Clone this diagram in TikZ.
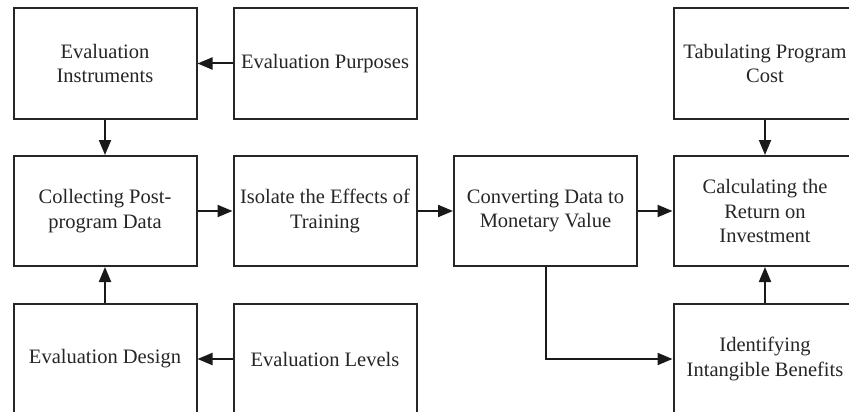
\documentclass[tikz,border=0pt]{standalone}
\usepackage{fontspec}
\setmainfont{Liberation Serif}
\usetikzlibrary{arrows.meta}
\begin{document}
\begin{tikzpicture}[x=1pt,y=-1pt,
  box/.style={draw=black!85, line width=2pt, minimum width=183pt, minimum height=110pt,
    inner sep=0pt, align=center, font=\fontsize{20.5}{24.5}\selectfont, text=black!85},
  conn/.style={line width=2pt, draw=black!90, -{Triangle[length=15pt,width=12pt]}}]
\useasboundingbox (0,0) rectangle (849,412);
\clip (0,0) rectangle (849,412);
\fill[white] (0,0) rectangle (849,412);
\node[box] (ei)   at (105,63.5) {Evaluation\\Instruments};
\node[box] (ep)   at (325,63.5) {Evaluation Purposes};
\node[box] (cpd)  at (105,211) {Collecting Post-\\program Data};
\node[box] (iso)  at (325,211) {Isolate the Effects of\\Training};
\node[box] (conv) at (545.5,211) {Converting Data to\\Monetary Value};
\node[box] (calc) at (765,211) {Calculating the\\Return on\\Investment};
\node[box] (tab)  at (765,63.5) {Tabulating Program\\Cost};
\node[box] (ed)   at (105,359) {Evaluation Design};
\node[box] (el)   at (325,359) {Evaluation Levels};
\node[box] (idb)  at (765,359) {Identifying\\Intangible Benefits};
\draw[conn] (ep) -- (ei);
\draw[conn] (ei) -- (cpd);
\draw[conn] (ed) -- (cpd);
\draw[conn] (el) -- (ed);
\draw[conn] (cpd) -- (iso);
\draw[conn] (iso) -- (conv);
\draw[conn] (conv) -- (calc);
\draw[conn] (tab) -- (calc);
\draw[conn] (idb) -- (calc);
\draw[conn] (conv.south) |- (idb.west);
\end{tikzpicture}
\end{document}
